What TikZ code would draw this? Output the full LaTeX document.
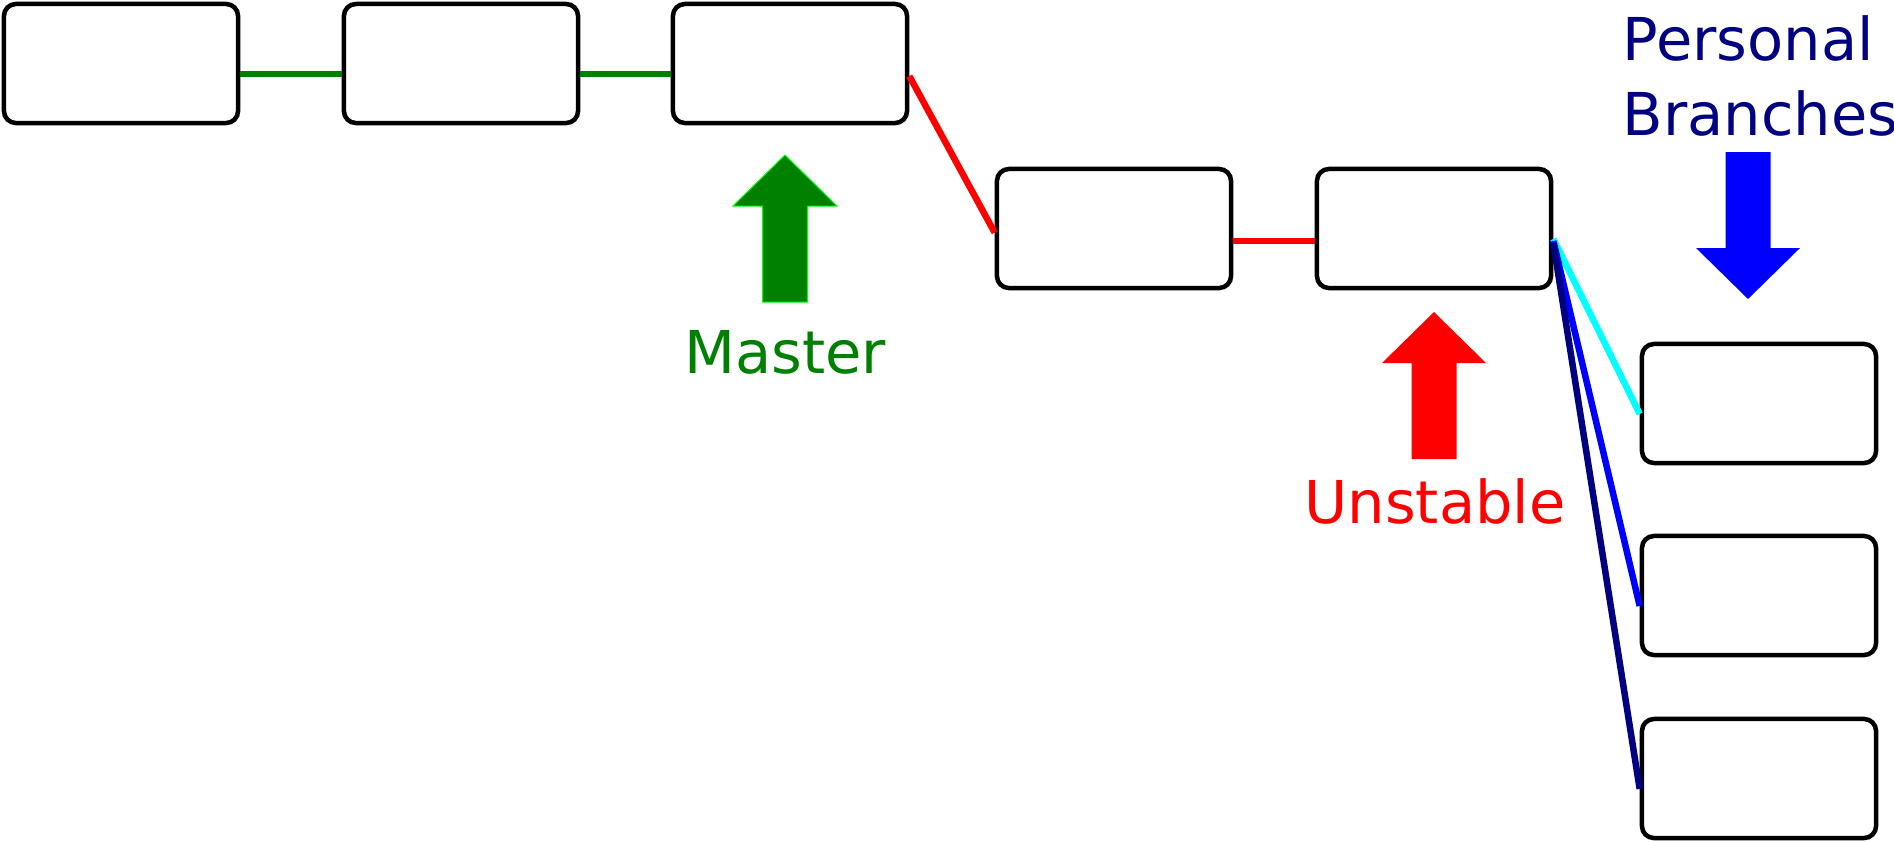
\documentclass[tikz,border=0pt]{standalone}
\usepackage{fontspec}
\setmainfont{DejaVu Sans}
\usepackage{tikz}
\definecolor{mastergreen}{HTML}{008000}
\definecolor{lightgreen}{HTML}{00FF00}
\definecolor{navyblue}{HTML}{000080}
\definecolor{aqua}{HTML}{00FFFF}

\tikzset{
  commit/.style={draw, fill=white, rounded corners=0.12cm, line width=0.045cm,
                 minimum width=2.34cm, minimum height=1.19cm, inner sep=0},
  link/.style={line width=0.065cm},
  tag/.style={inner sep=0, anchor=base, font=\fontsize{16.8}{21.3}\selectfont},
  blockarrow/.pic={\path[pic actions] (0,0) -- (52,51) -- (22.5,51) -- (22.5,147)
                   -- (-22.5,147) -- (-22.5,51) -- (-52,51) -- cycle;}
}

\begin{document}
\begin{tikzpicture}[x=0.01cm, y=-0.01cm]
\useasboundingbox (0,0) rectangle (1894,842);
%
\node[commit] (m1) at (121,63.5) {};
\node[commit] (m2) at (461,63.5) {};
\node[commit] (m3) at (790,63.5) {};
\node[commit] (u1) at (1114,228.5) {};
\node[commit] (u2) at (1434,228.5) {};
\node[commit] (p1) at (1759,403.5) {};
\node[commit] (p2) at (1759,595.5) {};
\node[commit] (p3) at (1759,778.5) {};
%
\draw[link, mastergreen] (m1.-5) -- (m2.185);
\draw[link, mastergreen] (m2.-5) -- (m3.185);
\draw[link, red] (m3.-6) -- (u1.182);
\draw[link, red] (u1.-6) -- (u2.186);
\draw[link, aqua] (u2.-5) -- (p1.185);
\draw[link, blue] (u2.-6) -- (p2.185);
\draw[link, navyblue] (u2.-7) -- (p3.185);
%
\pic[fill=mastergreen, draw=lightgreen, line width=0.01cm] at (785,155) {blockarrow};
\pic[fill=red] at (1434,312) {blockarrow};
\pic[fill=blue, rotate=180] at (1748,299) {blockarrow};
%
\node[tag, mastergreen] (master) at (785,373) {Master};
\node[tag, red] (unstable) at (1435,523) {Unstable};
\node[tag, navyblue, anchor=base west, align=left] (personal) at (1622,135) {Personal\\Branches};
\end{tikzpicture}
\end{document}
